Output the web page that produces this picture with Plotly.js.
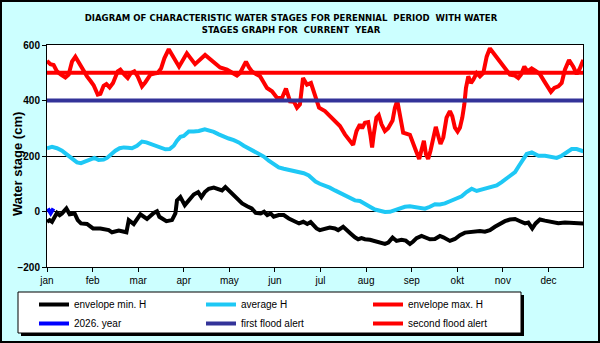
<!DOCTYPE html>
<html>
<head>
<meta charset="utf-8">
<script src="https://cdn.plot.ly/plotly-3.0.1.min.js"></script>
<style>
  body { margin: 0; background: #ccffff; }
  #wrap { position: relative; width: 600px; height: 343px; }
  #frame { position: absolute; left: 0; top: 0; width: 600px; height: 343px;
           box-sizing: border-box; border: 2px solid #000; pointer-events: none; }
</style>
</head>
<body>
<div id="wrap">
  <div id="chart" style="width:600px;height:343px;"></div>
  <div id="frame"></div>
</div>
<script>
// month labels, one tick every 31 days
const months = ["jan", "feb", "mar", "apr", "may", "jun", "jul", "aug", "sep", "okt", "nov", "dec"];
const monthDays = [0, 31, 62, 93, 124, 155, 186, 217, 248, 279, 310, 341];

// envelope min. H
const minDays = [0, 1.8, 3.4, 5, 6.8, 8.6, 10.2, 13.2, 15.4, 18.8, 20.9, 23.1, 27.2, 31.3, 36.3, 42, 44.2, 48.8, 54, 55.6,
  59, 63.5, 68, 72.6, 74.8, 76.4, 81.2, 85, 87.3, 88.4, 90.7, 93.7, 96.4, 99.8, 102.8, 105, 107.3, 110, 113.4, 116.4,
  119, 121.3, 123.6, 126.3, 129.3, 132.7, 136.1, 139.2, 141.9, 145.3, 147.6, 149.8, 152.1, 154.2, 157.6, 161, 164.4,
  167.8, 171.4, 174.3, 177, 179.3, 183.3, 185.5, 189, 192.3, 195.8, 198, 201.4, 203.7, 206.4, 209.4, 211.6, 213.9,
  216.2, 219.6, 223, 226.4, 229.8, 232.1, 235, 237.7, 241.1, 244, 246.8, 249, 251.3, 254.7, 257.7, 260.4, 263.8,
  267.2, 269.5, 272, 274, 277.4, 280.8, 284.2, 287.6, 291, 294.4, 297.8, 301.2, 304.6, 308, 311.4, 314.8, 318.3,
  321.7, 325.1, 327.3, 330, 332.3, 335.2, 338.6, 343.2, 347.7, 352.2, 356.8, 361.3, 364.6];
const minH = [-37, -31, -37, -19, -5, -13, -7, 11, -10, -7, -31, -43, -45, -61, -61, -67, -75, -69, -75, -31,
  -45, -10, -27, -5, 1, -19, -35, -31, -7, 40, 52, 23, 40, 61, 70, 52, 70, 82, 86, 82,
  76, 88, 76, 61, 43, 29, 19, 11, -5, -7, -1, -13, -7, -19, -13, -13, -25,
  -35, -43, -37, -45, -38, -61, -67, -61, -58, -61, -67, -55, -64, -79, -93, -100, -96,
  -100, -102, -108, -112, -117, -112, -94, -106, -102, -105, -117, -108, -96, -88, -94, -100, -99,
  -88, -93, -101, -106, -99, -85, -76, -74, -69, -70, -73, -67, -55, -43, -35, -29, -27,
  -35, -43, -40, -61, -43, -29, -33, -39, -42, -40, -42, -43, -43];

// average H
const avgDays = [0, 3.4, 6.8, 10.2, 13.6, 17, 20.4, 23.1, 26.1, 29.5, 32.2, 35.1, 38.5, 40.8, 43.5, 46.5, 49.4, 52.2,
  54.9, 57.8, 61.2, 64.6, 67.6, 70.3, 73.7, 77.1, 80.5, 83.4, 86.2, 88.4, 90.7, 93, 96.4, 99.8, 103.2, 107.3, 110.1,
  113.4, 116.8, 120.2, 123.6, 127, 130.4, 133.8, 137.2, 140.6, 144, 147.4, 150.8, 154.2, 157.6, 161, 164.4, 167.8,
  171.2, 174.6, 178, 180.3, 182.6, 185.5, 189, 192.3, 195.8, 199.2, 202.6, 206, 209.4, 212.8, 216.2, 219.6, 223,
  226.4, 229.8, 233.2, 236.6, 240, 243.4, 246.8, 250.2, 253.6, 257, 260.4, 263.8, 267.2, 270.6, 274, 277.4, 282,
  285.3, 288.8, 292.2, 295.6, 299, 302.4, 305.8, 309.2, 312.6, 316, 318.3, 321, 324, 326.2, 329.7, 334.2, 338.7,
  343.2, 346.6, 350, 353.4, 356.8, 360.2, 364.7];
const avgH = [228, 233, 228, 219, 205, 189, 177, 174, 181, 189, 193, 186, 187, 193, 207, 219, 228, 231,
  230, 228, 237, 252, 249, 243, 236, 228, 224, 225, 237, 255, 269, 272, 288, 288, 290, 296, 293,
  287, 278, 269, 263, 257, 249, 237, 228, 217, 207, 198, 183, 171, 159, 154, 150, 145,
  144, 138, 130, 118, 108, 100, 94, 86, 76, 67, 58, 46, 40, 38, 29, 17, 7,
  2, -2, -1, 5, 11, 17, 19, 17, 14, 10, 17, 26, 25, 29, 37, 46, 55,
  70, 82, 74, 79, 86, 90, 94, 106, 121, 133, 142, 165, 189, 207, 213, 201, 201,
  198, 193, 201, 213, 225, 225, 217];

// envelope max. H
const maxDays = [0, 2.3, 4.5, 6.8, 9.5, 12.5, 14.7, 17, 19.3, 21.5, 24.9, 27.2, 29.5, 31.7, 34.5, 36.3, 38.5, 40.4,
  42.6, 44.9, 48.1, 49.9, 52.6, 54.9, 57.1, 59.4, 61.7, 64.6, 66.9, 70.3, 73, 75.3, 77.6, 79.8, 82.8, 85, 87.3,
  89.8, 95.1, 100.7, 107.5, 112.3, 117.7, 122.4, 125.8, 129.2, 131.3, 133.5, 135.3, 137.4, 139.4, 142.1, 144.9,
  146.9, 149.6, 153, 156.5, 159.8, 162.5, 165.3, 168, 170, 172, 174.1, 176.8, 179.5, 182.2, 185, 189, 192.3, 195.8,
  199.2, 202.6, 206, 208.2, 209.4, 210.5, 212.8, 214.3, 216.2, 218.4, 220, 221.1, 222.2, 224, 225.6, 227.5, 229.8,
  232, 235, 236.6, 238.2, 240, 242.2, 246.8, 249, 250.9, 253.1, 254.7, 256.3, 257.7, 259.2, 260.8, 262.6, 264.4,
  266, 267.6, 269.5, 271.7, 274, 275.6, 277.4, 279.2, 280.8, 282.4, 283.8, 284.9, 286.5, 288.3, 289.9, 292.2, 294.4,
  296.7, 299, 301.2, 304.6, 308, 311.4, 314.8, 318.2, 320.5, 322.3, 324.6, 326.8, 329.6, 332.3, 335.2, 338.2, 340.9,
  342.7, 345, 347.7, 350, 352.2, 355, 357.9, 360.2, 362.4, 364.7];
const maxH = [543, 531, 528, 505, 493, 483, 493, 540, 558, 538, 505, 487, 471, 455, 421, 424, 453, 459,
  447, 463, 505, 511, 493, 481, 499, 505, 487, 451, 466, 493, 497, 499, 516, 552, 585, 566, 540,
  522, 570, 531, 564, 543, 519, 511, 499, 490, 499, 522, 540, 519, 505, 495, 487,
  469, 445, 433, 409, 409, 443, 397, 395, 374, 386, 481, 457, 463, 421, 374, 362, 344, 326,
  308, 278, 255, 240, 267, 290, 314, 300, 320, 322, 273, 231, 278, 338, 347, 314, 290,
  300, 328, 374, 400, 350, 284, 276, 249, 219, 189, 219, 255, 207, 189, 219, 267, 305,
  273, 243, 267, 338, 362, 344, 302, 288, 302, 338, 386, 445, 487, 463, 475, 499, 487,
  499, 558, 588, 564, 540, 516, 493, 490, 481, 493, 522, 505, 516, 507, 495, 469, 445,
  431, 445, 451, 463, 511, 546, 522, 495, 516, 546];

// 2026. year (first days only)
const curDays = [0.6, 2.5, 4.4];
const curH = [11, -6, 11];

// flood alert levels
const alertDays = [0, 364.5];
const firstAlert = [400, 400];
const secondAlert = [500, 500];

const W = 4;
const traces = [
  { x: minDays, y: minH, name: "envelope min. H", line: { color: "#000000", width: W } },
  { x: avgDays, y: avgH, name: "average H", line: { color: "#1ec8f5", width: W } },
  { x: maxDays, y: maxH, name: "envelope max. H", line: { color: "#ff0000", width: W } },
  { x: curDays, y: curH, name: "2026. year", line: { color: "#0000ff", width: W } },
  { x: alertDays, y: firstAlert, name: "first flood alert", line: { color: "#333399", width: W } },
  { x: alertDays, y: secondAlert, name: "second flood alert", line: { color: "#ff0000", width: W } }
].map(t => Object.assign({ type: "scatter", mode: "lines", hoverinfo: "skip" }, t));

// plot area in pixels: left 47, width 536, top 45, height 222
const pw = 536, ph = 222;
const px = v => (v - 47) / pw;
const py = v => (45 + ph - v) / ph;

const layout = {
  width: 600,
  height: 343,
  margin: { l: 47, r: 17, t: 45, b: 76, autoexpand: false },
  paper_bgcolor: "#ccffff",
  plot_bgcolor: "#ffffff",
  font: { family: "Liberation Sans, Arial, sans-serif", size: 10, color: "#000" },
  title: {
    text: "DIAGRAM OF CHARACTERISTIC WATER STAGES FOR PERENNIAL  PERIOD  WITH WATER<br>STAGES GRAPH FOR  CURRENT  YEAR",
    font: { family: "Liberation Sans Narrow, DejaVu Sans Condensed, Arial Narrow, sans-serif", size: 9.5, weight: "bold" },
    x: 291 / 600, xanchor: "center", xref: "container",
    y: 1 - 21 / 343, yanchor: "top", yref: "container"
  },
  xaxis: {
    range: [0, 364.5],
    tickvals: monthDays,
    ticktext: months,
    ticks: "outside", ticklen: 4, tickcolor: "#000",
    showgrid: false, zeroline: false,
    showline: true, mirror: true, linecolor: "#000", linewidth: 1,
    tickfont: { size: 10 }
  },
  yaxis: {
    range: [-200, 600],
    tickvals: [-200, 0, 200, 400, 600],
    ticks: "outside", ticklen: 4, tickcolor: "#000",
    showgrid: true, gridcolor: "#000", gridwidth: 1, zeroline: false,
    showline: true, mirror: true, linecolor: "#000", linewidth: 1,
    tickfont: { size: 10, weight: "bold" }
  },
  showlegend: true,
  legend: {
    orientation: "h",
    x: px(34), xanchor: "left",
    y: py(290), yanchor: "top",
    bgcolor: "rgba(0,0,0,0)",
    borderwidth: 0,
    entrywidth: 122, entrywidthmode: "pixels",
    itemwidth: 30,
    font: { size: 10 }
  },
  annotations: [{
    text: "<b>Water stage (cm)</b>",
    xref: "paper", yref: "paper",
    x: px(17), y: py(164), xanchor: "center", yanchor: "middle",
    textangle: -90, showarrow: false,
    font: { size: 13 }
  }],
  shapes: [
    // legend shadow and box
    { type: "rect", xref: "paper", yref: "paper", x0: px(21), x1: px(524), y0: py(295), y1: py(336),
      fillcolor: "#000", line: { width: 0 }, layer: "above" },
    { type: "rect", xref: "paper", yref: "paper", x0: px(18), x1: px(521), y0: py(292), y1: py(333),
      fillcolor: "#fff", line: { color: "#000", width: 1 }, layer: "above" }
  ]
};

Plotly.newPlot("chart", traces, layout, { displayModeBar: false, staticPlot: true });
</script>
</body>
</html>
